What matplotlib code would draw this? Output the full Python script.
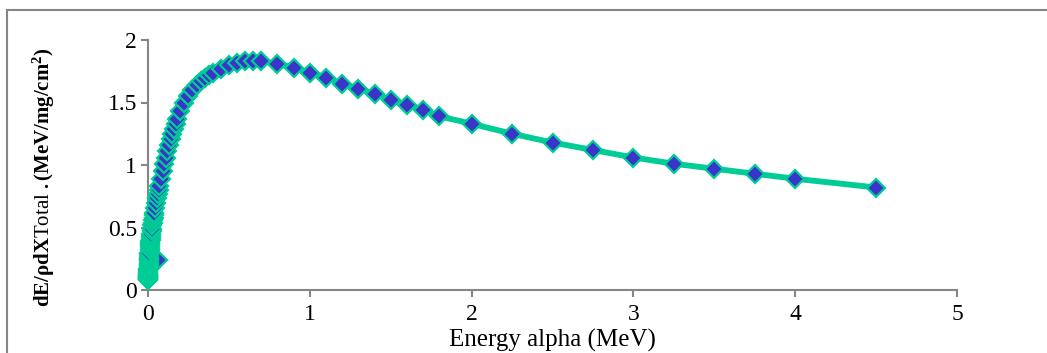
import numpy as np
import matplotlib
matplotlib.use("Agg")
import matplotlib.pyplot as plt
from matplotlib.lines import Line2D

# Alpha energy grid (MeV) and total mass stopping power (MeV/mg/cm^2)
energy = [0.001, 0.0011, 0.0012, 0.0013, 0.0014, 0.0015, 0.0016, 0.0017, 0.0018,
          0.002, 0.00225, 0.0025, 0.00275, 0.003, 0.00325, 0.0035, 0.00375, 0.004,
          0.0045, 0.005, 0.0055, 0.006, 0.0065, 0.007, 0.008, 0.009,
          0.010, 0.011, 0.012, 0.013, 0.014, 0.015, 0.016, 0.017, 0.018,
          0.020, 0.0225, 0.025, 0.0275, 0.030, 0.0325, 0.035, 0.0375, 0.040,
          0.045, 0.050, 0.055, 0.060, 0.065, 0.070, 0.080, 0.090,
          0.10, 0.11, 0.12, 0.13, 0.14, 0.15, 0.16, 0.17, 0.18,
          0.20, 0.225, 0.25, 0.275, 0.30, 0.325, 0.35, 0.375, 0.40,
          0.45, 0.50, 0.55, 0.60, 0.65, 0.70, 0.80, 0.90,
          1.0, 1.1, 1.2, 1.3, 1.4, 1.5, 1.6, 1.7, 1.8,
          2.0, 2.25, 2.5, 2.75, 3.0, 3.25, 3.5, 3.75, 4.0, 4.5]
dedx = [0.08, 0.085, 0.09, 0.095, 0.10, 0.105, 0.11, 0.115, 0.12,
        0.13, 0.14, 0.15, 0.16, 0.17, 0.18, 0.19, 0.20, 0.21,
        0.22, 0.23, 0.24, 0.25, 0.26, 0.27, 0.29, 0.30,
        0.32, 0.34, 0.35, 0.37, 0.38, 0.39, 0.40, 0.42, 0.43,
        0.45, 0.47, 0.49, 0.52, 0.54, 0.56, 0.58, 0.60, 0.62,
        0.66, 0.70, 0.74, 0.77, 0.80, 0.83, 0.89, 0.95,
        1.01, 1.06, 1.11, 1.16, 1.21, 1.25, 1.29, 1.33, 1.37,
        1.43, 1.50, 1.55, 1.60, 1.64, 1.67, 1.70, 1.72, 1.74,
        1.77, 1.80, 1.82, 1.83, 1.83, 1.83, 1.81, 1.78,
        1.74, 1.70, 1.65, 1.61, 1.57, 1.52, 1.48, 1.44, 1.39,
        1.33, 1.25, 1.18, 1.12, 1.06, 1.01, 0.97, 0.93, 0.89, 0.82]

# one stray value in the table
stray_energy = [0.06]
stray_dedx = [0.24]

line_col = '#00cc96'
fill_col = '#3a35c8'
axis_col = '#868686'

plt.rcParams['font.family'] = ['Liberation Serif', 'DejaVu Serif']
plt.rcParams['mathtext.fontset'] = 'custom'
plt.rcParams['mathtext.rm'] = 'Liberation Serif'
plt.rcParams['mathtext.it'] = 'Liberation Serif:italic'
plt.rcParams['mathtext.bf'] = 'Liberation Serif:bold'

fig = plt.figure(figsize=(10.47, 3.53), dpi=100)
ax = fig.add_axes([148/1047, 1 - 290/353, (957 - 148)/1047, (290 - 40)/353])

ax.plot(energy, dedx, '-', color=line_col, lw=4.2, zorder=2)
ax.plot(stray_energy, stray_dedx, 'D', ms=9, mfc=fill_col, mec=line_col,
        mew=1.6, zorder=3)
ax.plot(energy, dedx, 'D', ms=9, mfc=fill_col, mec=line_col, mew=1.6,
        zorder=3, clip_on=False)

ax.set_xlim(0, 5)
ax.set_ylim(0, 2)
ax.set_xticks([0, 1, 2, 3, 4, 5])
ax.set_yticks([0, 0.5, 1, 1.5, 2])
ax.set_yticklabels(['0', '0.5', '1', '1.5', '2'])

for s in ['top', 'right']:
    ax.spines[s].set_visible(False)
for s in ['left', 'bottom']:
    ax.spines[s].set_color(axis_col)
    ax.spines[s].set_linewidth(1.5)
ax.tick_params(direction='out', length=5, width=1.5, color=axis_col,
               labelsize=17)
ax.tick_params(axis='y', pad=3)
ax.tick_params(axis='x', pad=5)

ax.set_xlabel('Energy alpha (MeV)', fontsize=18, labelpad=3)
ax.set_ylabel(r'$\mathbf{dE/\rho dX}\mathrm{Total}\ \mathbf{.(MeV/mg/cm^2)}$',
              fontsize=15)
ax.yaxis.set_label_coords(-0.112, 0.45)

# outer frame lines
fig.add_artist(Line2D([7/1047, 7/1047], [0, 1 - 10/353], color=axis_col,
                      lw=1.5, transform=fig.transFigure))
fig.add_artist(Line2D([7/1047, 1], [1 - 10/353, 1 - 10/353], color=axis_col,
                      lw=1.5, transform=fig.transFigure))

fig.savefig('out.png', dpi=100)
